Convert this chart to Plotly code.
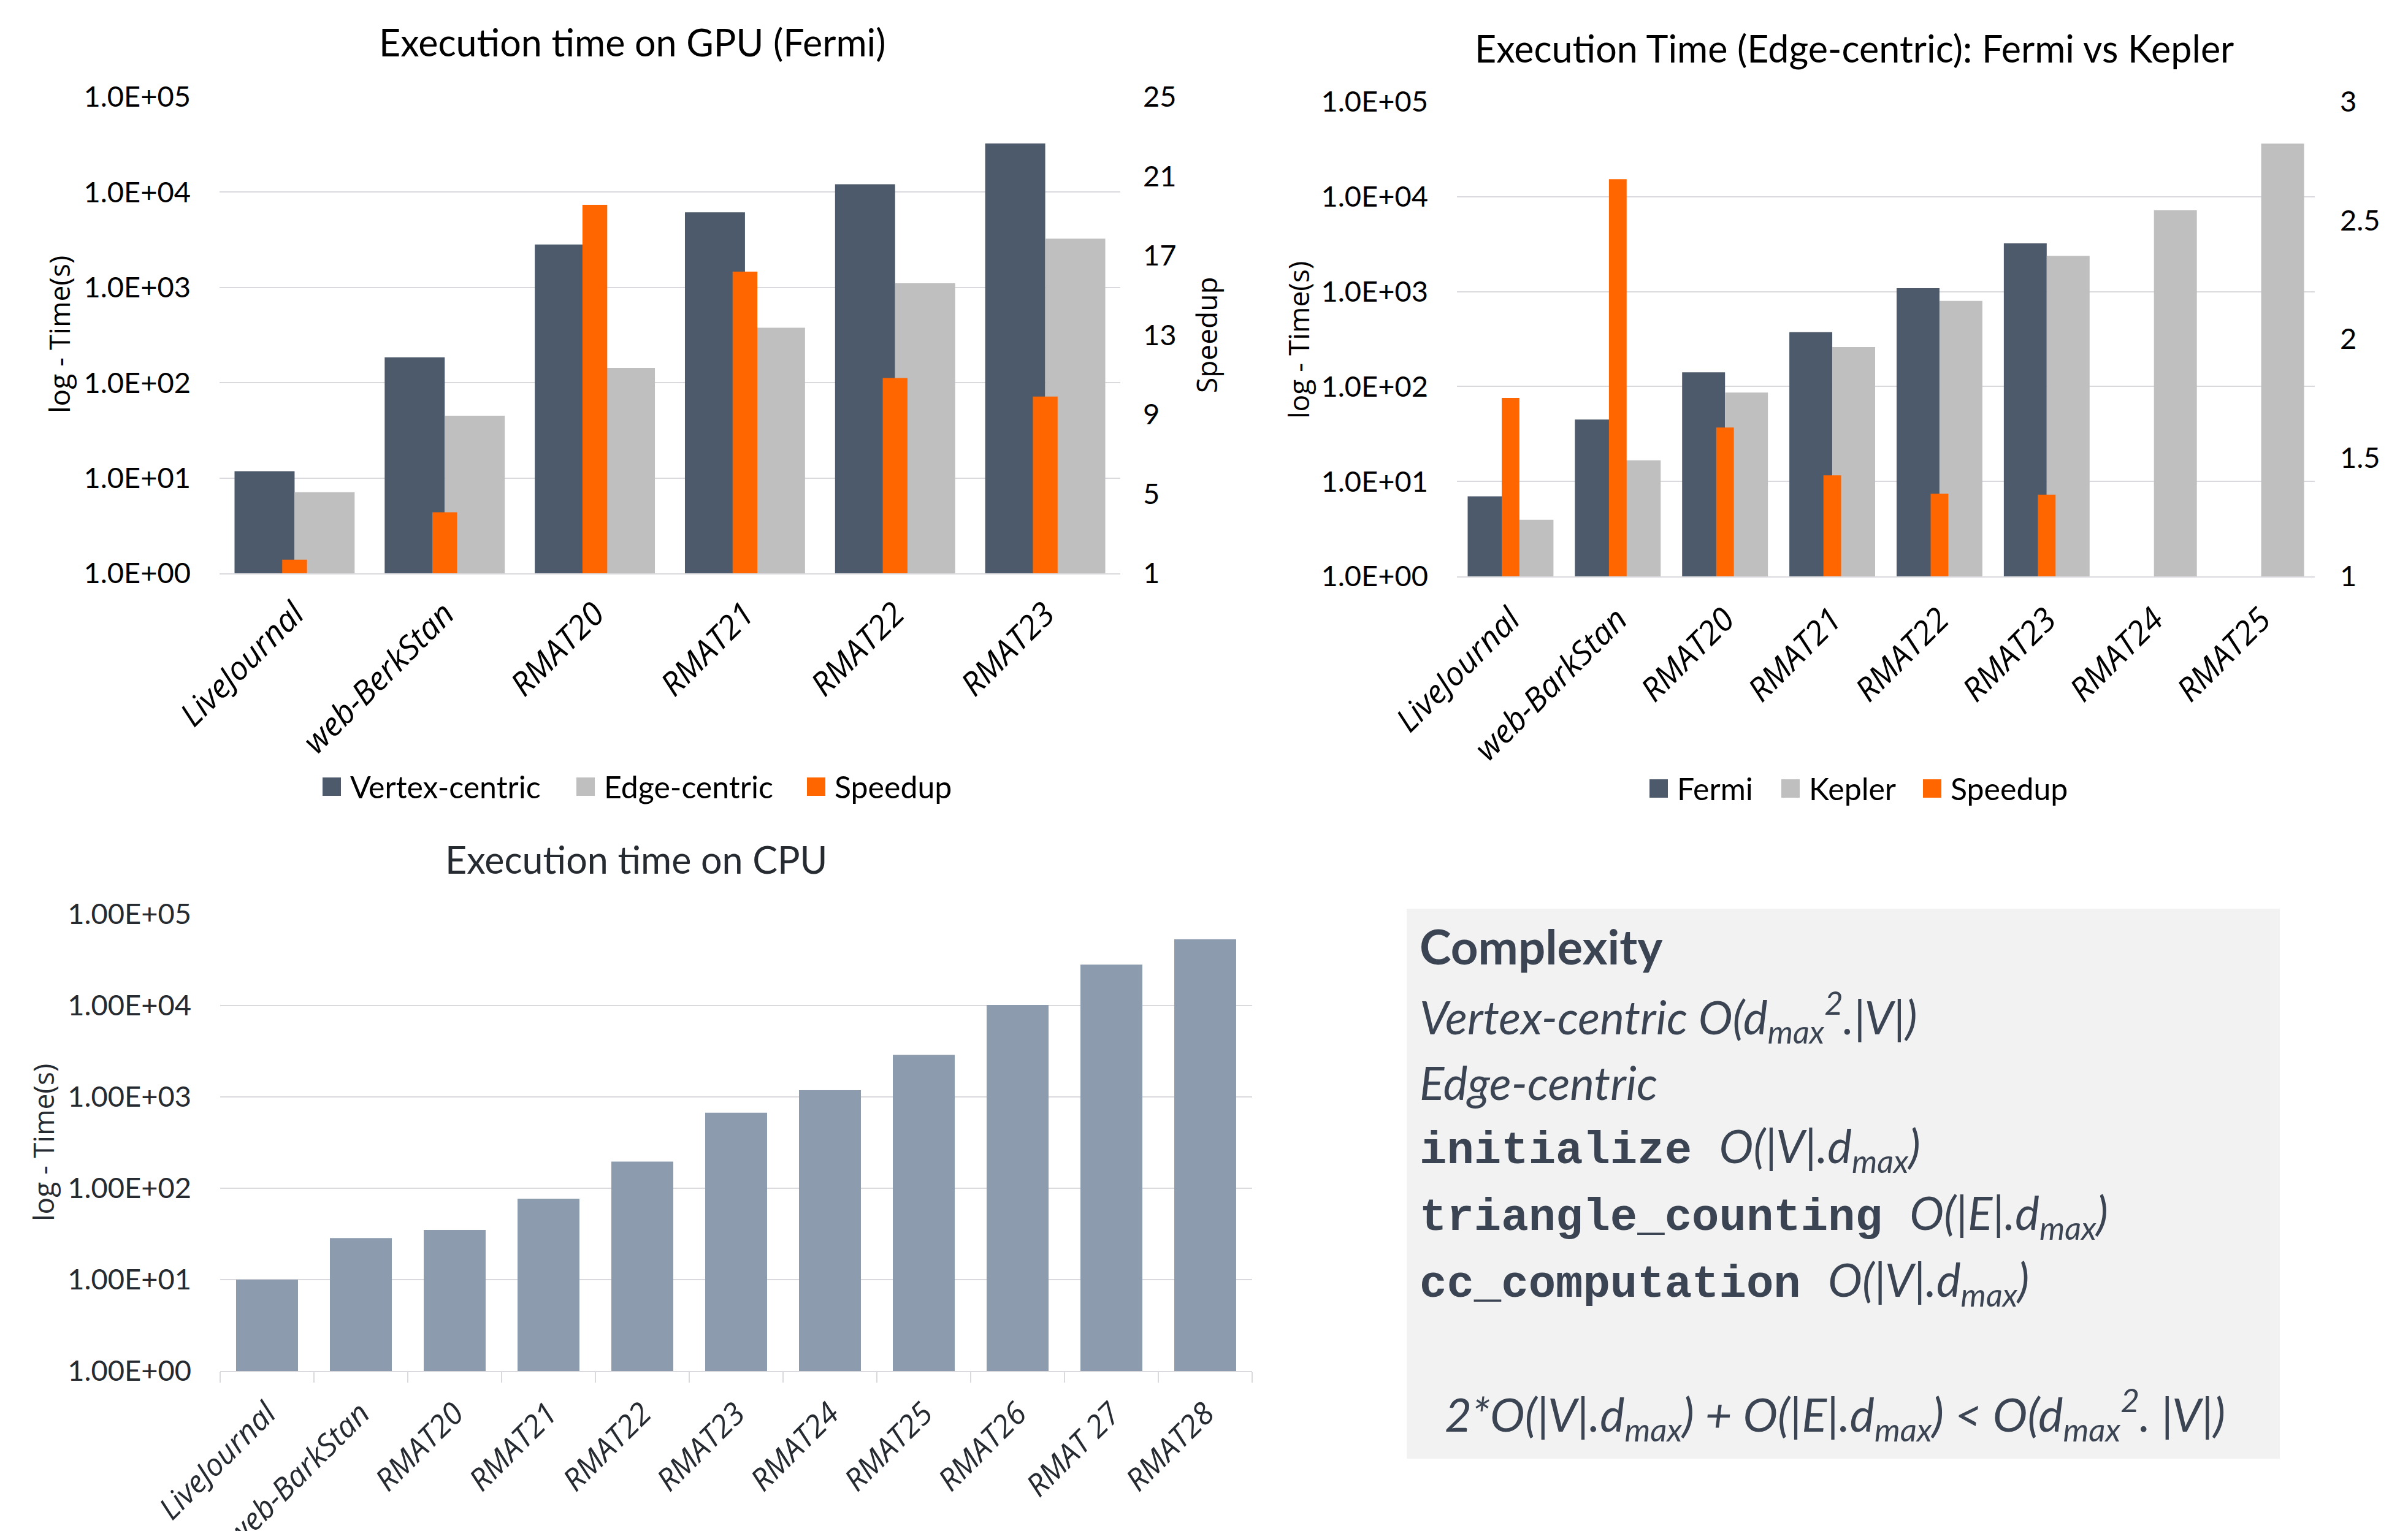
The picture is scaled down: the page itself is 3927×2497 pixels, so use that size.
import plotly.graph_objects as go

# ---------------- data ----------------
gpu_categories = ["LiveJournal", "web-BerkStan", "RMAT20", "RMAT21", "RMAT22", "RMAT23"]
gpu_vertex = [11.8, 185, 2820, 6150, 12100, 32400]
gpu_edge = [7.1, 45, 143, 378, 1108, 3245]
gpu_speedup = [1.69, 4.07, 19.56, 16.2, 10.84, 9.9]

fk_categories = ["LiveJournal", "web-BarkStan", "RMAT20", "RMAT21", "RMAT22", "RMAT23", "RMAT24", "RMAT25"]
fk_fermi = [6.96, 44.9, 141, 374, 1086, 3236, None, None]
fk_kepler = [3.95, 16.7, 86.4, 261, 798, 2378, 7180, 36250]
fk_speedup = [1.752, 2.674, 1.627, 1.426, 1.348, 1.344, None, None]

cpu_categories = ["LiveJournal", "web-BarkStan", "RMAT20", "RMAT21", "RMAT22", "RMAT23",
                  "RMAT24", "RMAT25", "RMAT26", "RMAT 27", "RMAT28"]
cpu_time = [10, 28.5, 35, 76.9, 196, 673, 1186, 2886, 10160, 28070, 52970]

log_tickvals = [1, 10, 100, 1000, 10000, 100000]
gpu_log_ticktext = ["1.0E+00", "1.0E+01", "1.0E+02", "1.0E+03", "1.0E+04", "1.0E+05"]
cpu_log_ticktext = ["1.00E+00", "1.00E+01", "1.00E+02", "1.00E+03", "1.00E+04", "1.00E+05"]
gpu_speedup_ticks = [1, 5, 9, 13, 17, 21, 25]
fk_speedup_ticks = [1, 1.5, 2, 2.5, 3]

# ---------------- style ----------------
W, H = 3927, 2497
OFF = 8  # page body margin: figure origin sits at (8, 8) in the page
DARK = "#4d5a6b"
GRAY = "#bfbfbf"
ORANGE = "#ff6600"
SLATE = "#8c9cae"
GRID = "#d9d9de"
BOXTXT = "#3b4452"
TXT3 = "#262a31"
CAL = "Lato"
SEG = "Open Sans"
MONO = "Liberation Mono"


def px(x):
    return (x - OFF) / W


def py(y):
    return 1 - (y - OFF) / H


fig = go.Figure()

# chart 1
fig.add_trace(go.Bar(x=gpu_categories, y=gpu_vertex, width=0.4, offset=-0.4,
                     marker=dict(color=DARK), name="Vertex-centric", xaxis="x", yaxis="y"))
fig.add_trace(go.Bar(x=gpu_categories, y=gpu_edge, width=0.4, offset=0.0,
                     marker=dict(color=GRAY), name="Edge-centric", xaxis="x", yaxis="y"))
fig.add_trace(go.Bar(x=gpu_categories, y=gpu_speedup, width=0.165, offset=-0.0825,
                     marker=dict(color=ORANGE), name="Speedup", xaxis="x", yaxis="y2"))
# chart 2
fig.add_trace(go.Bar(x=fk_categories, y=fk_fermi, width=0.4, offset=-0.4,
                     marker=dict(color=DARK), name="Fermi", xaxis="x2", yaxis="y3"))
fig.add_trace(go.Bar(x=fk_categories, y=fk_kepler, width=0.4, offset=0.0,
                     marker=dict(color=GRAY), name="Kepler", xaxis="x2", yaxis="y3"))
fig.add_trace(go.Bar(x=fk_categories, y=fk_speedup, width=0.165, offset=-0.0825,
                     marker=dict(color=ORANGE), name="Speedup", xaxis="x2", yaxis="y4"))
# chart 3
fig.add_trace(go.Bar(x=cpu_categories, y=cpu_time, width=0.66, offset=-0.33,
                     marker=dict(color=SLATE), name="CPU", xaxis="x3", yaxis="y5"))

cat_font_12 = dict(family=SEG, size=53, color="#000000", style="italic")
cat_font_3 = dict(family=SEG, size=50, color=TXT3, style="italic")
tick_font = dict(family=CAL, size=47, color="#000000")
tick_font_3 = dict(family=CAL, size=47, color=TXT3)


def cat_axis(domain, n, font, standoff, ticks=False):
    d = dict(domain=domain, type="category", range=[-0.5, n - 0.5], showgrid=False,
             showline=True, linecolor=GRID, linewidth=2, tickangle=-45, tickfont=font,
             automargin=False, ticklabelstandoff=standoff, zeroline=False)
    if ticks:
        d.update(ticks="outside", tickson="boundaries", ticklen=17, tickcolor=GRID, tickwidth=2)
    else:
        d.update(ticks="")
    return d


def log_axis(domain, anchor, ticktext, font):
    return dict(domain=domain, anchor=anchor, type="log", range=[0, 5], tickvals=log_tickvals,
                ticktext=ticktext, tickfont=font, showgrid=True, gridcolor=GRID, gridwidth=2,
                showline=False, ticks="", zeroline=False, automargin=False, ticklabelstandoff=46)


fig.update_layout(
    width=W, height=H, autosize=False,
    margin=dict(l=0, r=0, t=0, b=0, pad=0),
    paper_bgcolor="white", plot_bgcolor="white",
    showlegend=False, barmode="overlay", template="none",
    xaxis=dict(anchor="y", **cat_axis([px(358), px(1827)], 6, cat_font_12, 12)),
    yaxis=log_axis([py(935), py(158)], "x", gpu_log_ticktext, tick_font),
    yaxis2=dict(overlaying="y", side="right", anchor="x", range=[1, 25], tickvals=gpu_speedup_ticks,
                tickfont=tick_font, showgrid=False, showline=False, ticks="", zeroline=False,
                automargin=False, ticklabelstandoff=36),
    xaxis2=dict(anchor="y3", **cat_axis([px(2376), px(3775)], 8, cat_font_12, 16)),
    yaxis3=log_axis([py(940), py(166)], "x2", gpu_log_ticktext, tick_font),
    yaxis4=dict(overlaying="y3", side="right", anchor="x2", range=[1, 3], tickvals=fk_speedup_ticks,
                tickfont=tick_font, showgrid=False, showline=False, ticks="", zeroline=False,
                automargin=False, ticklabelstandoff=40),
    xaxis3=dict(anchor="y5", **cat_axis([px(359), px(2042)], 11, cat_font_3, 18, ticks=True)),
    yaxis5=log_axis([py(2236), py(1491)], "x3", cpu_log_ticktext, tick_font_3),
)

annotations = []
shapes = []


def note(text, x, y, size, color="#000000", family=CAL, xanchor="center", yanchor="middle",
         angle=0, style="normal", weight="normal"):
    annotations.append(dict(text=text, x=px(x), y=py(y), xref="paper", yref="paper",
                            xanchor=xanchor, yanchor=yanchor, showarrow=False, textangle=angle,
                            font=dict(family=family, size=size, color=color, style=style,
                                      weight=weight)))


# titles
note("Execution time on GPU (Fermi)", 1032, 68, 61)
note("Execution Time (Edge-centric): Fermi vs Kepler", 3024, 78, 61)
note("Execution time on CPU", 1037, 1401, 61, color=TXT3)

# axis titles
note("log - Time(s)", 96, 546, 46, family=SEG, angle=-90)
note("Speedup", 1967, 546, 46, family=SEG, angle=-90)
note("log - Time(s)", 2117, 555, 46, family=SEG, angle=-90)
note("Speedup", 3912, 552, 46, family=SEG, angle=-90, xanchor="left")
note("log - Time(s)", 70, 1864, 46, family=SEG, angle=-90, color=TXT3)


# legends (square swatch + label)
def legend_item(x0, yc, color, label, size=30):
    shapes.append(dict(type="rect", xref="paper", yref="paper", x0=px(x0), x1=px(x0 + size),
                       y0=py(yc + size / 2), y1=py(yc - size / 2), fillcolor=color,
                       line=dict(width=0), layer="above"))
    note(label, x0 + size + 13, yc, 50, xanchor="left")


legend_item(526, 1283, DARK, "Vertex-centric")
legend_item(940, 1283, GRAY, "Edge-centric")
legend_item(1316, 1283, ORANGE, "Speedup")

legend_item(2690, 1286, DARK, "Fermi")
legend_item(2905, 1286, GRAY, "Kepler")
legend_item(3136, 1286, ORANGE, "Speedup")

# complexity box
shapes.append(dict(type="rect", xref="paper", yref="paper", x0=px(2294), x1=px(3718),
                   y0=py(2379), y1=py(1482), fillcolor="#f2f2f2", line=dict(width=0), layer="below"))

mono = "<span style='font-family:%s;font-weight:bold;font-style:normal;font-size:74px'>%s </span>"
note("<b>Complexity</b>", 2313, 1543, 78, color=BOXTXT, xanchor="left")
note("<i>Vertex-centric O(d<sub>max</sub><sup>2</sup>.|V|)</i>", 2313, 1658, 75, color=BOXTXT,
     xanchor="left")
note("<i>Edge-centric</i>", 2313, 1765, 75, color=BOXTXT, xanchor="left")
note(mono % (MONO, "initialize") + "<i>O(|V|.d<sub>max</sub>)</i>", 2313, 1873, 75,
     color=BOXTXT, xanchor="left")
note(mono % (MONO, "triangle_counting") + "<i>O(|E|.d<sub>max</sub>)</i>", 2313, 1982, 75,
     color=BOXTXT, xanchor="left")
note(mono % (MONO, "cc_computation") + "<i>O(|V|.d<sub>max</sub>)</i>", 2313, 2091, 75,
     color=BOXTXT, xanchor="left")
note("<i>2*O(|V|.d<sub>max</sub>) + O(|E|.d<sub>max</sub>) &lt; O(d<sub>max</sub><sup>2</sup>. |V|)</i>",
     2354, 2306, 76, color=BOXTXT, xanchor="left")

fig.update_layout(annotations=annotations, shapes=shapes)

fig.write_html("out.html")
